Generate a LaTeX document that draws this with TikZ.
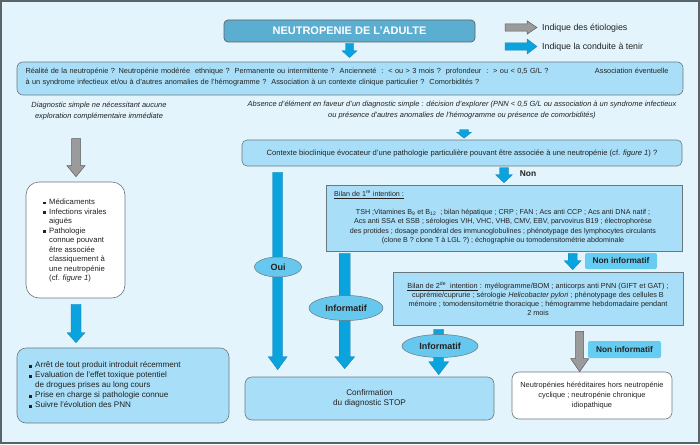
\documentclass[tikz,border=0pt]{standalone}
\usepackage{fontspec}
\setmainfont{Liberation Sans}
\usetikzlibrary{calc,shapes.geometric}
\definecolor{bgc}{HTML}{E3F4FC}
\definecolor{framec}{HTML}{5A6468}
\definecolor{boxc}{HTML}{A8DEF7}
\definecolor{titlec}{HTML}{5BAED0}
\definecolor{arrowc}{HTML}{0BA3DE}
\definecolor{arrowd}{HTML}{1080B0}
\definecolor{ellc}{HTML}{66C8EE}
\definecolor{labc}{HTML}{66CCF2}
\definecolor{grayc}{HTML}{9B9B9B}
\definecolor{grayd}{HTML}{5E5E5E}
\definecolor{edgec}{HTML}{6A787E}
\definecolor{txtc}{HTML}{222222}
\newcommand\fatarrow[6]{%
  \path[#1] let \p1=#2, \p2=#3 in
  (\x1-#4pt,\y1) -- (\x1+#4pt,\y1) -- (\x1+#4pt,\y2+#6pt) -- (\x1+#5pt,\y2+#6pt)
  -- (\x1,\y2) -- (\x1-#5pt,\y2+#6pt) -- (\x1-#4pt,\y2+#6pt) -- cycle;}
\newcommand\fatarrowh[6]{%
  \path[#1] let \p1=#2, \p2=#3 in
  (\x1,\y1-#4pt) -- (\x1,\y1+#4pt) -- (\x2-#6pt,\y1+#4pt) -- (\x2-#6pt,\y1+#5pt)
  -- (\x2,\y1) -- (\x2-#6pt,\y1-#5pt) -- (\x2-#6pt,\y1-#4pt) -- cycle;}
\newcommand\bul{\makebox[6pt][l]{\rule[0.4pt]{2.6pt}{2.6pt}}}
\tikzset{
  blueA/.style={fill=arrowc, draw=arrowd, line width=0.3pt},
  grayA/.style={fill=grayc, draw=grayd, line width=0.5pt},
  bluebox/.style={draw=edgec, fill=boxc, line width=0.6pt, rounded corners=6pt, text=txtc, inner sep=0pt},
  sqbox/.style={draw=edgec, fill=boxc, line width=0.6pt, text=txtc, inner sep=0pt},
  whitebox/.style={draw=edgec, fill=white, line width=0.6pt, text=txtc, inner sep=0pt},
  ell/.style={ellipse, draw=edgec, fill=ellc, line width=0.5pt, inner sep=0pt, font=\fontsize{9}{10}\selectfont\bfseries, text=txtc},
  lab/.style={fill=labc, rounded corners=2pt, inner sep=0pt, font=\fontsize{8.3}{9}\selectfont\bfseries, text=txtc},
  plain/.style={inner sep=0pt, text=txtc, align=center}
}
\begin{document}
\begin{tikzpicture}[x=1pt,y=-1pt]
\useasboundingbox (0,0) rectangle (700,444);
\fill[bgc] (0,0) rectangle (700,444);
\draw[framec, line width=1.6pt] (0.8,0.8) rectangle (699.2,443.2);

% title
\node[draw=framec, fill=titlec, rounded corners=4pt, line width=0.7pt, minimum width=251pt, minimum height=22pt, inner sep=0pt, text=white, font=\fontsize{11}{12}\selectfont\bfseries] (title) at (349.5,31) {NEUTROPENIE DE L'ADULTE};

% legend
\coordinate (lg1a) at (505,27.5);
\coordinate (lg1b) at (537,27.5);
\coordinate (lg2a) at (505,46.5);
\coordinate (lg2b) at (537,46.5);
\fatarrowh{grayA}{(lg1a)}{(lg1b)}{3.7}{6.7}{10}
\fatarrowh{blueA}{(lg2a)}{(lg2b)}{3.7}{7.5}{10}
\node[plain, anchor=west, font=\fontsize{8.8}{10}\selectfont] (lgt1) at (542,28) {Indique des étiologies};
\node[plain, anchor=west, font=\fontsize{8.8}{10}\selectfont] (lgt2) at (542,47.5) {Indique la conduite à tenir};

% box 2
\node[bluebox, minimum width=666pt, minimum height=33pt] (box2) at (350,78.5) {};
\node[plain, align=left, text width=643pt, font=\fontsize{7.35}{11}\selectfont] (box2t) at (347,77.5) {Réalité de la neutropénie ? Neutropénie modérée\ \ ethnique ?\ \ Permanente ou intermittente ?\ \ Ancienneté\ \ :\ \ < ou > 3 mois ?\ \ profondeur\ \ :\ \ > ou < 0,5 G/L ?\hfill Association éventuelle\hspace*{14pt}\\
à un syndrome infectieux et/ou à d'autres anomalies de l'hémogramme ?\ \ Association à un contexte clinique particulier ?\ \ Comorbidités ?};

% italic texts
\node[plain, font=\fontsize{7.45}{11}\selectfont\itshape] (lital) at (99,111) {Diagnostic simple ne nécessitant aucune\\exploration complémentaire immédiate};
\node[plain, font=\fontsize{7.45}{10.5}\selectfont\itshape] (rital) at (462,110) {Absence d'élément en faveur d'un diagnostic simple : décision d'explorer (PNN < 0,5 G/L ou association à un syndrome infectieux\\ou présence d'autres anomalies de l'hémogramme ou présence de comorbidités)};

% context box
\node[bluebox, rounded corners=5pt, minimum width=440pt, minimum height=26pt, font=\fontsize{7.6}{9}\selectfont] (ctx) at (462,153) {Contexte bioclinique évocateur d'une pathologie particulière pouvant être associée à une neutropénie (cf. \textit{figure 1}) ?};

% bilan 1
\node[sqbox, minimum width=356pt, minimum height=66pt] (b1) at (504,218) {};
\node[plain, anchor=west, font=\fontsize{7.15}{9}\selectfont] (b1h) at (334,195) {\underline{Bilan de 1\textsuperscript{re} intention :}};
\node[plain, font=\fontsize{7.15}{9.4}\selectfont] (b1t) at (503,226.5) {TSH ;Vitamines B\textsubscript{9} et B\textsubscript{12}\ \ ; bilan hépatique ; CRP ; FAN ; Acs anti CCP ; Acs anti DNA natif ;\\
Acs anti SSA et SSB ; sérologies VIH, VHC, VHB, CMV, EBV, parvovirus B19 ; électrophorèse\\
des protides ; dosage pondéral des immunoglobulines ; phénotypage des lymphocytes circulants\\
(clone B ? clone T à LGL ?) ; échographie ou tomodensitométrie abdominale};

% bilan 2
\node[sqbox, minimum width=290pt, minimum height=53pt] (b2) at (538,298.5) {};
\node[plain, font=\fontsize{7.3}{9}\selectfont] (b2t) at (538,299) {\underline{Bilan de 2\textsuperscript{de}\ \ intention} : myélogramme/BOM ; anticorps anti PNN (GIFT et GAT) ;\\
cuprémie/cuprurie ; sérologie \textit{Helicobacter pylori} ; phénotypage des cellules B\\
mémoire ; tomodensitométrie thoracique ; hémogramme hebdomadaire pendant\\
2 mois};

% confirmation
\node[bluebox, rounded corners=7pt, minimum width=249pt, minimum height=43pt, align=center, font=\fontsize{8.2}{10}\selectfont] (conf) at (369.5,398.5) {Confirmation\\du diagnostic STOP};

% white box bottom right
\node[whitebox, rounded corners=7pt, minimum width=160pt, minimum height=47pt, align=center, font=\fontsize{7.45}{9.6}\selectfont] (nbox) at (592,395.5) {Neutropénies héréditaires hors neutropénie\\cyclique ; neutropénie chronique\\idiopathique};

% left white box
\node[whitebox, rounded corners=13pt, minimum width=99pt, minimum height=116pt] (wbox) at (75.5,240) {};
\node[plain, anchor=west, align=left, font=\fontsize{7.7}{9.5}\selectfont] (wboxt) at (43,240.5) {\bul Médicaments\\
\bul Infections virales\\
\hspace*{6pt}aiguës\\
\bul Pathologie\\
\hspace*{6pt}connue pouvant\\
\hspace*{6pt}être associée\\
\hspace*{6pt}classiquement à\\
\hspace*{6pt}une neutropénie\\
\hspace*{6pt}(cf. \textit{figure 1})};

% bottom left box
\node[bluebox, rounded corners=9pt, minimum width=212pt, minimum height=75pt] (blbox) at (123,385.5) {};
\node[plain, anchor=west, align=left, font=\fontsize{8.1}{10}\selectfont] (blboxt) at (29,385) {\bul Arrêt de tout produit introduit récemment\\
\bul Evaluation de l'effet toxique potentiel\\
\hspace*{6pt}de drogues prises au long cours\\
\bul Prise en charge si pathologie connue\\
\bul Suivre l'évolution des PNN};

% connectors
\fatarrow{blueA}{($(title.south)+(0,1)$)}{($(box2.north)+(0,-4)$)}{4}{7.5}{7}
\fatarrow{grayA}{($(wbox.north)+(0.5,-43)$)}{($(wbox.north)+(0,-5)$)}{4.5}{9}{11}
\fatarrow{blueA}{($(wbox.south)+(0.5,6)$)}{($(blbox.north)+(0,-5)$)}{5}{9}{10}
\fatarrow{blueA}{($(ctx.north)+(2,-10)$)}{($(ctx.north)+(0,-1.5)$)}{4.5}{7.5}{6}
\fatarrow{blueA}{($(b1.north)+(0,-17)$)}{($(b1.north)+(0,-2)$)}{4.5}{8.5}{8}
\node[plain, font=\fontsize{8.4}{9}\selectfont\bfseries] (non) at (528,173.5) {Non};
\fatarrow{blueA}{($(ctx.south west)+(36,6)$)}{($(conf.north)+(0,-7)$)}{5}{9.5}{13}
\fatarrow{blueA}{($(b1.south west)+(19,2)$)}{($(conf.north)+(0,-8)$)}{5.5}{10}{12}
\fatarrow{blueA}{($(b1.south west)+(247,2)$)}{($(b2.north)+(0,-2)$)}{4.5}{8.5}{9}
\fatarrow{blueA}{($(b2.south west)+(46,4)$)}{($(conf.north)+(0,-2)$)}{5}{10}{13}
\fatarrow{grayA}{($(b2.south west)+(187,6)$)}{(nbox.north)}{4}{9}{13}

% labels
\node[ell, minimum width=47pt, minimum height=20pt] (oui) at (278,267) {Oui};
\node[ell, minimum width=74pt, minimum height=25pt] (inf1) at (346,308) {Informatif};
\node[ell, minimum width=76pt, minimum height=23pt] (inf2) at (440,346) {Informatif};
\node[lab, minimum width=72pt, minimum height=16pt] (ni1) at (621,261) {Non informatif};
\node[lab, minimum width=73pt, minimum height=17pt] (ni2) at (624.5,349.5) {Non informatif};
\end{tikzpicture}
\end{document}
